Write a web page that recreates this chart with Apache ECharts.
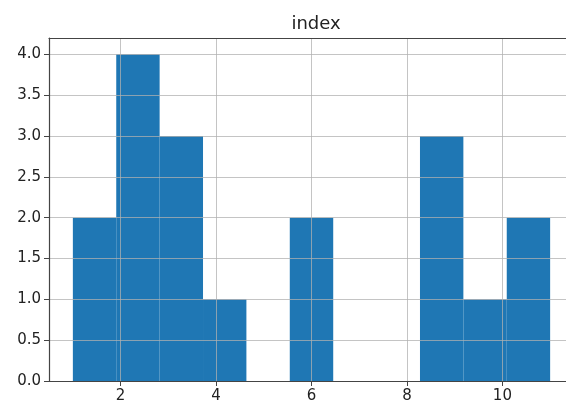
<!DOCTYPE html>
<html>
<head>
<meta charset="utf-8">
<script src="https://cdn.jsdelivr.net/npm/echarts@6/dist/echarts.min.js"></script>
<style>html,body{margin:0;padding:0;background:#fff;}#c{width:566px;height:407px;}</style>
</head>
<body>
<div id="c"></div>
<script>
const title = 'index';
const binEdges = [1, 1.909, 2.818, 3.727, 4.636, 5.545, 6.455, 7.364, 8.273, 9.182, 10.091, 11];
const counts = [2, 4, 3, 1, 0, 2, 0, 0, 3, 1, 2];
const xTicks = [2, 4, 6, 8, 10];
const yTicks = [0, 0.5, 1.0, 1.5, 2.0, 2.5, 3.0, 3.5, 4.0];

const data = counts.map((c, i) => [binEdges[i], binEdges[i + 1], c]);

const chart = echarts.init(document.getElementById('c'), null, {renderer: 'canvas'});
const font = 'DejaVu Sans';
chart.setOption({
  animation: false,
  backgroundColor: '#fff',
  title: {
    text: title, left: 311, top: 10, textAlign: 'center',
    textStyle: {fontFamily: font, fontSize: 18, fontWeight: 'normal', color: '#222'}
  },
  grid: {left: 49, top: 38, width: 525, height: 343, outerBoundsMode: 'none', containLabel: false, show: false},
  xAxis: [{
    type: 'value', min: 0.5, max: 11.5, z: 10,
    axisLine: {show: true, onZero: false, lineStyle: {color: '#444', width: 1.2}},
    axisTick: {show: true, customValues: xTicks, length: 5, lineStyle: {color: '#444'}},
    axisLabel: {customValues: xTicks, fontFamily: font, fontSize: 15, color: '#222', margin: 8},
    splitLine: {show: true, lineStyle: {color: 'rgba(176,176,176,0.75)', width: 1}}
  }, {
    type: 'value', position: 'top', min: 0.5, max: 11.5, z: 10,
    axisLine: {show: true, onZero: false, lineStyle: {color: '#444', width: 1.2}},
    axisTick: {show: false}, axisLabel: {show: false}, splitLine: {show: false}
  }],
  yAxis: {
    type: 'value', min: 0, max: 4.2, z: 10,
    axisLine: {show: true, onZero: false, lineStyle: {color: '#444', width: 1.2}},
    axisTick: {show: true, customValues: yTicks, length: 5, lineStyle: {color: '#444'}},
    axisLabel: {customValues: yTicks, fontFamily: font, fontSize: 15, color: '#222', margin: 8,
      formatter: v => Number(v).toFixed(1)},
    splitLine: {show: true, lineStyle: {color: 'rgba(176,176,176,0.75)', width: 1}}
  },
  series: [{
    type: 'custom', z: 2, xAxisIndex: 0,
    data: data,
    encode: {x: [0, 1], y: 2},
    renderItem: function (params, api) {
      const p0 = api.coord([api.value(0), api.value(2)]);
      const p1 = api.coord([api.value(1), 0]);
      return {
        type: 'rect',
        shape: {x: p0[0], y: p0[1], width: p1[0] - p0[0], height: p1[1] - p0[1]},
        style: {fill: '#1f77b4'}
      };
    }
  }]
});
</script>
</body>
</html>
